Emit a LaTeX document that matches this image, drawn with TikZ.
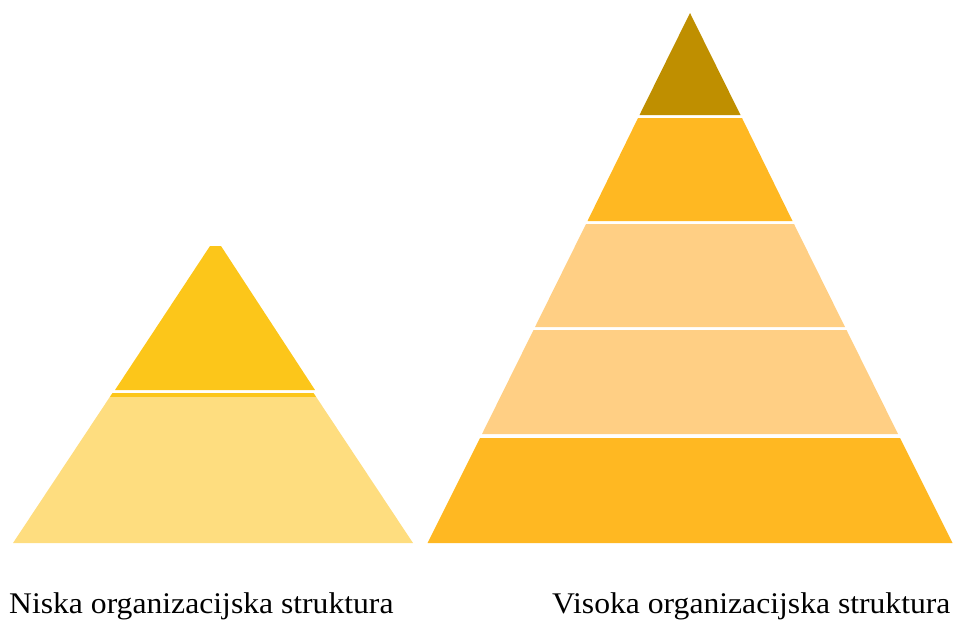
\documentclass[tikz,border=0pt]{standalone}
\usepackage{fontspec}
\setmainfont{Liberation Serif}
\definecolor{darkgold}{HTML}{BF8F00}
\definecolor{amber}{HTML}{FFB822}
\definecolor{peach}{HTML}{FFCF84}
\definecolor{sunyellow}{HTML}{FCC61A}
\definecolor{paleyellow}{HTML}{FEDD7F}
\tikzset{
  layer/.style={draw=none},
  caption/.style={inner sep=0pt, anchor=base west, font=\fontsize{30}{36}\selectfont}
}
\newcommand{\widetext}[1]{\scalebox{1.055}[1]{#1}}
\begin{document}
\begin{tikzpicture}[x=1pt,y=-1pt]
\useasboundingbox (0,0) rectangle (957,619);
% small pyramid
\fill[sunyellow] (210,246) -- (221,246) -- (315,390) -- (115,390) -- cycle;
\fill[sunyellow] (112.5,393) -- (313.5,393) -- (316.2,397) -- (109.8,397) -- cycle;
\fill[paleyellow] (109.8,397) -- (316.2,397) -- (413,543) -- (13,543) -- cycle;
% big pyramid, slope 0.495
\fill[darkgold] (690,13) -- (740.5,115) -- (639.5,115) -- cycle;
\fill[amber] (638.0,118) -- (742.0,118) -- (792.5,221) -- (587.5,221) -- cycle;
\fill[peach] (586.0,224) -- (794.0,224) -- (845.0,327) -- (535.0,327) -- cycle;
\fill[peach] (533.5,330) -- (846.5,330) -- (898.0,434) -- (482.0,434) -- cycle;
\fill[amber] (480.0,438) -- (900.0,438) -- (952.5,543) -- (427.5,543) -- cycle;
% captions
\node[caption] (c1) at (9,613) {\widetext{Niska organizacijska struktura}};
\node[caption] (c2) at (552,613) {\widetext{Visoka organizacijska struktura}};
\end{tikzpicture}
\end{document}
